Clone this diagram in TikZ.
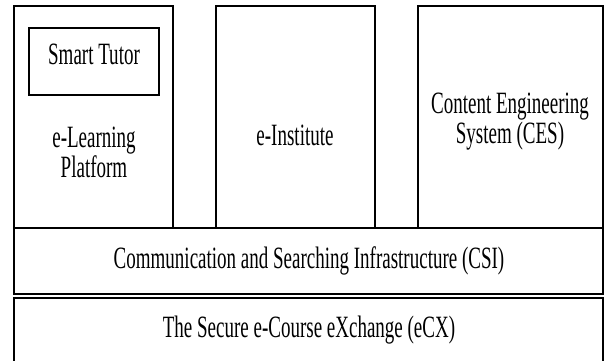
\documentclass[tikz,border=0pt]{standalone}
\usepackage{fontspec}
\setmainfont{Liberation Serif}[FakeStretch=0.613]
\begin{document}
\begin{tikzpicture}[x=1pt,y=-1pt,
  frame/.style={draw=black, line width=1.3pt, inner sep=0pt},
  lbl/.style={font=\fontsize{31}{30.5}\selectfont, inner sep=0pt, anchor=base}]
\useasboundingbox (0,0) rectangle (605,361);
% outer boxes
\node[frame, minimum width=159pt, minimum height=222pt] (elp) at (93.5,117) {};
\node[frame, minimum width=159pt, minimum height=222pt] (ein) at (295.5,117) {};
\node[frame, minimum width=185pt, minimum height=222pt] (ces) at (510.5,117) {};
\node[frame, minimum width=589pt, minimum height=66pt] (csi) at (308.5,261) {};
\coordinate (ecxbl) at (14,361);
\coordinate (ecxtr) at (603,298);
\coordinate (ecxbr) at (603,361);
\draw[frame] (ecxbl) |- (ecxtr) -- (ecxbr);
% Smart Tutor
\node[frame, minimum width=130pt, minimum height=67pt, text height=21pt, text depth=14pt,
  font=\fontsize{31}{30.5}\selectfont] (st) at (94,61.5) {Smart Tutor};
% labels
\node[lbl] (elptext) at (94,147) {\begin{tabular}[t]{@{}c@{}}e-Learning\\Platform\end{tabular}};
\node[lbl] (eintext) at (295,145) {e-Institute};
\node[lbl] (cestext) at (510,113.3) {\begin{tabular}[t]{@{}c@{}}Content Engineering\\System (CES)\end{tabular}};
\node[lbl] (csitext) at (309,268) {Communication and Searching Infrastructure (CSI)};
\node[lbl] (ecxtext) at (309,337) {The Secure e-Course eXchange (eCX)};
\end{tikzpicture}
\end{document}
